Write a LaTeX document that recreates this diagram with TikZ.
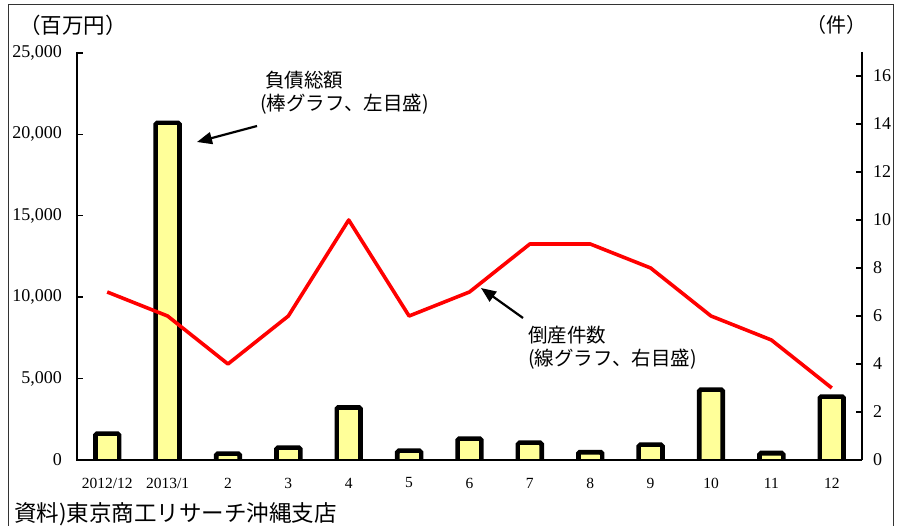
\documentclass[tikz,border=0pt]{standalone}
\usepackage{fontspec}
\setmainfont{Liberation Serif}
\newfontfamily\jp{Noto Sans CJK JP}
\usetikzlibrary{arrows.meta}
\definecolor{barfill}{HTML}{FFFF99}
\definecolor{linered}{HTML}{FF0000}
\begin{document}
\begin{tikzpicture}[x=1pt,y=-1pt,
  axisline/.style={line width=1.8pt,black},
  tickline/.style={line width=1.4pt,black},
  barbox/.style={line width=4.8pt,draw=black,fill=barfill,rounded corners=1.5pt},
  ticklab/.style={font=\fontsize{18}{18}\selectfont,inner sep=0pt},
  catlab/.style={font=\fontsize{15.5}{15.5}\selectfont,inner sep=0pt},
  jplab/.style={font=\jp\fontsize{19.5}{23}\selectfont,inner sep=0pt,align=left},
  callout/.style={line width=2.2pt,-{Triangle[length=15pt,width=12pt]}},
  series/.style={line width=3.6pt,linered,line join=round}
]
\useasboundingbox (0,0) rectangle (898,526);
% frame
\draw[line width=1pt,black!80] (8,5) rectangle (893,540);
% units
\node[jplab,font=\jp\fontsize{21.5}{21.5}\selectfont,anchor=west] (unitL) at (19,25) {（百万円）};
\node[jplab,font=\jp\fontsize{20}{20}\selectfont,anchor=west] (unitR) at (806,25) {（件）};
% bars (values in thousands of millions of yen)
\foreach \i/\v in {0/1.6,1/20.65,2/0.38,3/0.75,4/3.22,5/0.56,6/1.3,7/1.05,8/0.48,9/0.93,10/4.3,11/0.42,12/3.88}{
  \pgfmathsetmacro{\cx}{107.2+60.38*\i}
  \pgfmathsetmacro{\ty}{460-\v*16.32}
  \draw[barbox] (\cx-11.8,460) -- (\cx-11.8,\ty) -- (\cx+11.8,\ty) -- (\cx+11.8,460);
  \fill[barfill] (\cx-9.4,\ty+2.4) rectangle (\cx+9.4,459);
}
% axes
\draw[axisline] (77,52) -- (77,460) -- (862,460);
\draw[axisline] (862,52) -- (862,460);
% left ticks and labels
\foreach \k/\lab in {0/0,1/{5,000},2/{10,000},3/{15,000},4/{20,000},5/{25,000}}{
  \pgfmathsetmacro{\yy}{460-81.4*\k}
  \draw[tickline] (77,\yy) -- (83,\yy);
  \node[ticklab,anchor=east] (ly\k) at (62,\yy) {\lab};
}
% right ticks and labels
\foreach \k in {0,2,...,16}{
  \pgfmathsetmacro{\yy}{460-24*\k}
  \draw[tickline] (856,\yy) -- (862,\yy);
  \node[ticklab,anchor=west] (ry\k) at (873,\yy) {\k};
}
% category labels
\foreach \i/\lab in {0/{2012/12},1/{2013/1},2/2,3/3,4/4,5/5,6/6,7/7,8/8,9/9,10/10,11/11,12/12}{
  \pgfmathsetmacro{\cx}{107.2+60.38*\i}
  \node[catlab] (cat\i) at (\cx,483) {\lab};
}
% line series
\foreach \i/\v in {0/7,1/6,2/4,3/6,4/10,5/6,6/7,7/9,8/9,9/8,10/6,11/5,12/3}{
  \pgfmathsetmacro{\cx}{107.2+60.38*\i}
  \pgfmathsetmacro{\yy}{460-24*\v}
  \coordinate (p\i) at (\cx,\yy);
}
\draw[series] (p0) -- (p1) -- (p2) -- (p3) -- (p4) -- (p5) -- (p6) -- (p7) -- (p8) -- (p9) -- (p10) -- (p11) -- (p12);
% callouts
\node[jplab,anchor=north west] (debt) at (260,71) {\hspace*{5pt}負債総額\\(棒グラフ、左目盛)};
\coordinate (debtTail) at (257,126);
\coordinate (debtTip) at (197,142);
\draw[callout] (debtTail) -- (debtTip);
\node[jplab,anchor=north west] (count) at (528,326) {倒産件数\\(線グラフ、右目盛)};
\coordinate (countTail) at (523,318);
\coordinate (countTip) at (481,288);
\draw[callout] (countTail) -- (countTip);
% source
\node[jplab,font=\jp\fontsize{22.5}{22.5}\selectfont,anchor=west] (src) at (14,514) {資料)東京商工リサーチ沖縄支店};
\end{tikzpicture}
\end{document}
